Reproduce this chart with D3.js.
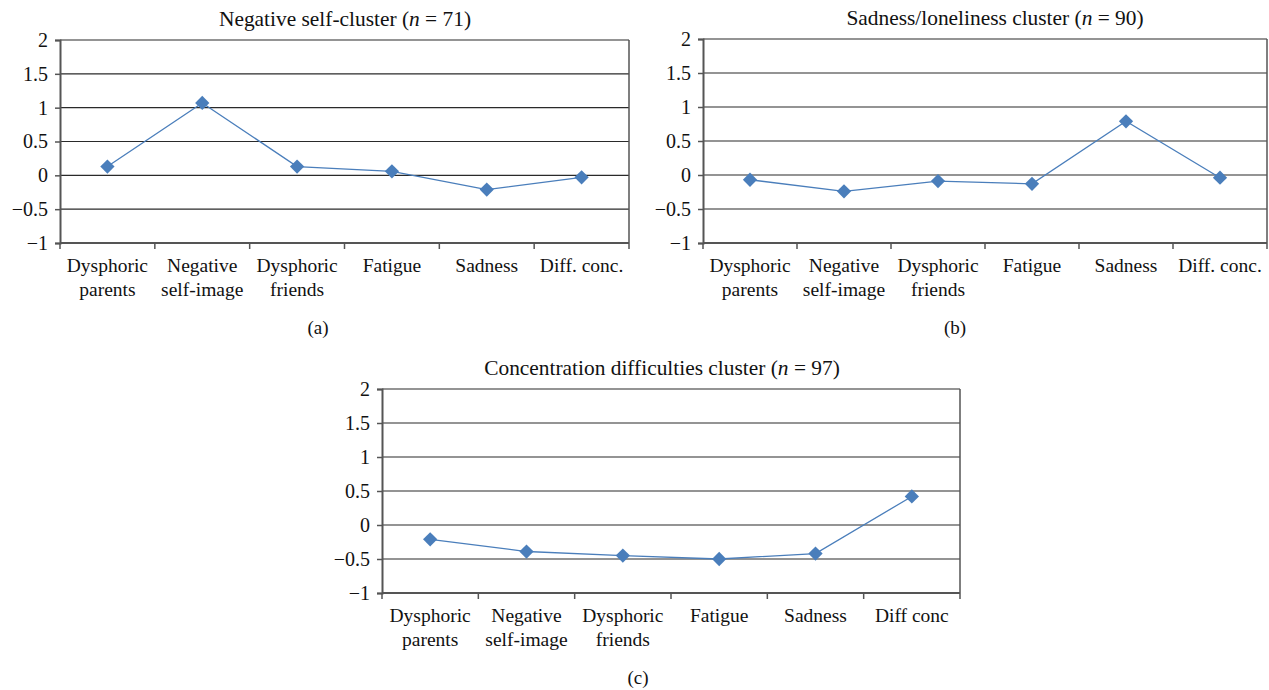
<!DOCTYPE html>
<html>
<head>
<meta charset="utf-8">
<script src="https://cdnjs.cloudflare.com/ajax/libs/d3/7.8.5/d3.min.js"></script>
<style>
  body { margin: 0; background: #fff; }
  svg text { font-family: "Liberation Serif", "DejaVu Serif", serif; fill: #111; }
</style>
</head>
<body>
<svg id="chart" width="1269" height="690"></svg>
<script>
// Cluster profiles (standardized symptom means)
var categoriesAB = [["Dysphoric", "parents"], ["Negative", "self-image"], ["Dysphoric", "friends"], ["Fatigue"], ["Sadness"], ["Diff. conc."]];
var categoriesC = [["Dysphoric", "parents"], ["Negative", "self-image"], ["Dysphoric", "friends"], ["Fatigue"], ["Sadness"], ["Diff conc"]];
var negativeSelf = [0.13, 1.07, 0.13, 0.06, -0.21, -0.03];
var sadnessLoneliness = [-0.07, -0.24, -0.09, -0.13, 0.79, -0.04];
var concentration = [-0.21, -0.39, -0.45, -0.50, -0.42, 0.42];
var yTicks = [-1, -0.5, 0, 0.5, 1, 1.5, 2];

var svg = d3.select("#chart");
var blue = "#4a7ebb";
var serif = "'Liberation Serif', serif";

function drawPanel(opts) {
    var g = svg.append("g");
    var x = d3.scaleBand()
        .domain(d3.range(opts.cats.length))
        .range([opts.left, opts.right]);
    var y = d3.scaleLinear()
        .domain([-1, 2])
        .range([opts.bottom, opts.top]);

    // Gridlines
    g.selectAll(".grid")
        .data(yTicks.filter(function (d) { return d > -1; }))
        .enter()
        .append("line")
        .attr("x1", opts.left)
        .attr("x2", opts.right)
        .attr("y1", function (d) { return y(d); })
        .attr("y2", function (d) { return y(d); })
        .attr("stroke", "#2a2a2a")
        .attr("stroke-width", 1.2);

    // right border
    g.append("line")
        .attr("x1", opts.right).attr("x2", opts.right)
        .attr("y1", opts.top).attr("y2", opts.bottom)
        .attr("stroke", "#555").attr("stroke-width", 1.5);

    // Y axis
    var yAxis = g.append("g")
        .attr("transform", "translate(" + opts.left + ",0)")
        .call(d3.axisLeft(y).tickValues(yTicks).tickSize(5).tickPadding(7)
            .tickFormat(function (d) { return d < 0 ? "\u2212" + Math.abs(d) : d; }));
    yAxis.select(".domain").attr("stroke", "#555").attr("stroke-width", 2);
    yAxis.selectAll(".tick line").attr("stroke", "#555").attr("stroke-width", 1.5);
    yAxis.selectAll(".tick text").style("font-size", "20px").style("font-family", serif).attr("fill", "#111");

    // X axis, ticks on band boundaries
    var xAxis = g.append("g")
        .attr("transform", "translate(0," + opts.bottom + ")");
    xAxis.append("line")
        .attr("x1", opts.left).attr("x2", opts.right)
        .attr("stroke", "#555").attr("stroke-width", 2);
    xAxis.selectAll(".xtick")
        .data(d3.range(opts.cats.length + 1))
        .enter()
        .append("line")
        .attr("x1", function (i) { return opts.left + i * x.bandwidth(); })
        .attr("x2", function (i) { return opts.left + i * x.bandwidth(); })
        .attr("y1", 0).attr("y2", 6)
        .attr("stroke", "#555").attr("stroke-width", 1.5);

    var labels = xAxis.selectAll(".xlabel")
        .data(opts.cats)
        .enter()
        .append("text")
        .attr("text-anchor", "middle")
        .style("font-size", "19.5px")
        .style("font-family", serif)
        .attr("transform", function (d, i) { return "translate(" + (x(i) + x.bandwidth() / 2) + ",29)"; });
    labels.selectAll("tspan")
        .data(function (d) { return d; })
        .enter()
        .append("tspan")
        .attr("x", 0)
        .attr("dy", function (d, i) { return i === 0 ? 0 : 23.5; })
        .text(function (d) { return d; });

    // Line
    var line = d3.line()
        .x(function (d, i) { return x(i) + x.bandwidth() / 2; })
        .y(function (d) { return y(d); });
    g.append("path")
        .datum(opts.values)
        .attr("d", line)
        .attr("fill", "none")
        .attr("stroke", blue)
        .attr("stroke-width", 1.3);

    // Diamond markers
    g.selectAll(".marker")
        .data(opts.values)
        .enter()
        .append("path")
        .attr("d", d3.symbol().type(d3.symbolDiamond2).size(130))
        .attr("transform", function (d, i) { return "translate(" + (x(i) + x.bandwidth() / 2) + "," + y(d) + ")"; })
        .attr("fill", blue);

    // Title
    var title = g.append("text")
        .attr("x", opts.titleX)
        .attr("y", opts.top - 14)
        .attr("text-anchor", "middle")
        .style("font-size", "21.4px")
        .style("font-family", serif);
    title.append("tspan").text(opts.title + " (");
    title.append("tspan").style("font-style", "italic").text("n");
    title.append("tspan").text(" = " + opts.n + ")");

    // Panel letter
    g.append("text")
        .attr("x", opts.letterX)
        .attr("y", opts.bottom + 91)
        .attr("text-anchor", "middle")
        .style("font-size", "19px")
        .style("font-family", serif)
        .text(opts.letter);
}

drawPanel({ cats: categoriesAB, values: negativeSelf, left: 60, right: 629, top: 40, bottom: 243,
    title: "Negative self-cluster", n: 71, titleX: 345, letter: "(a)", letterX: 318 });
drawPanel({ cats: categoriesAB, values: sadnessLoneliness, left: 703, right: 1267, top: 39, bottom: 243,
    title: "Sadness/loneliness cluster", n: 90, titleX: 995, letter: "(b)", letterX: 955 });
drawPanel({ cats: categoriesC, values: concentration, left: 382, right: 960, top: 389, bottom: 593,
    title: "Concentration difficulties cluster", n: 97, titleX: 662, letter: "(c)", letterX: 638 });
</script>
</body>
</html>
